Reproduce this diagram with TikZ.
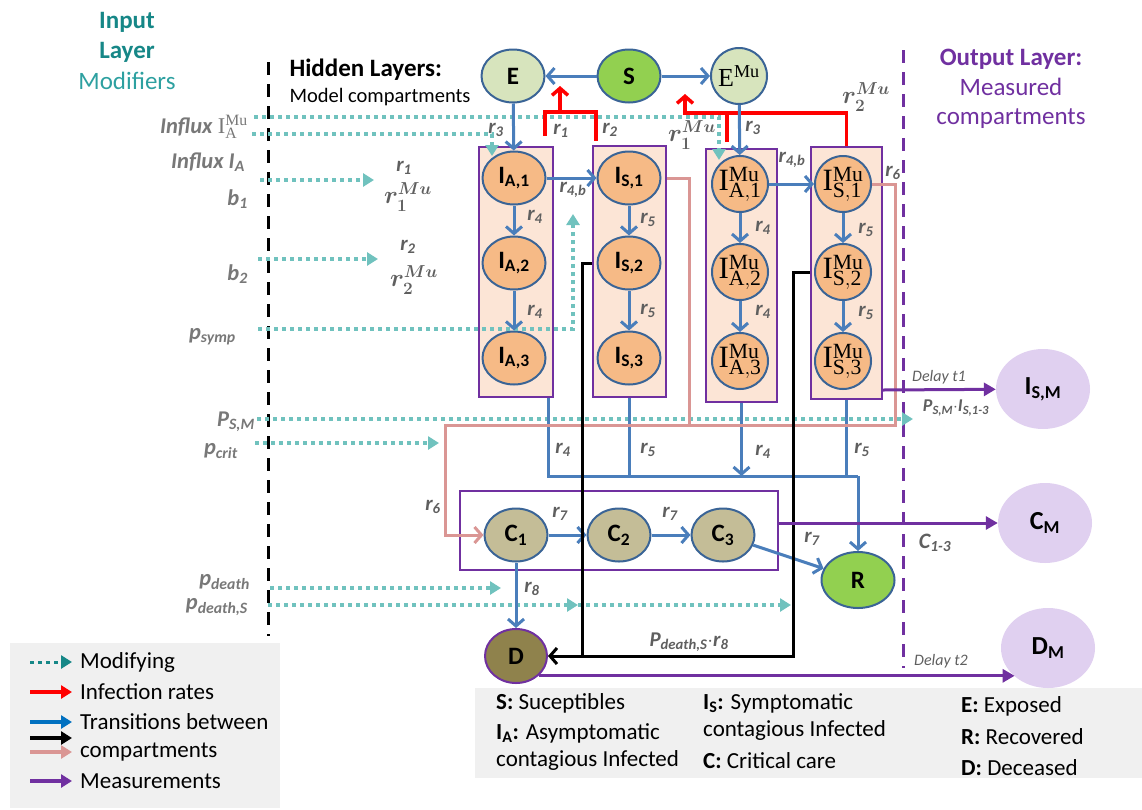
\documentclass[tikz,border=0pt]{standalone}
\usepackage{fontspec}
\setmainfont{Carlito}
\setmathrm{Liberation Serif}
\usetikzlibrary{shapes.geometric,arrows.meta}

\definecolor{tblue}{RGB}{74,126,187}
\definecolor{legblue}{RGB}{0,112,192}
\definecolor{bordblue}{RGB}{58,100,150}
\definecolor{modteal}{RGB}{112,194,190}
\definecolor{darkteal}{RGB}{22,135,135}
\definecolor{midteal}{RGB}{45,160,160}
\definecolor{mpurple}{RGB}{112,48,160}
\definecolor{boxfill}{RGB}{252,229,214}
\definecolor{orfill}{RGB}{246,186,134}
\definecolor{efill}{RGB}{215,228,189}
\definecolor{sgreen}{RGB}{146,208,80}
\definecolor{cfill}{RGB}{196,189,151}
\definecolor{dfill}{RGB}{143,130,76}
\definecolor{measfill}{RGB}{224,208,240}
\definecolor{pinkc}{RGB}{218,150,148}
\definecolor{labgray}{RGB}{95,95,95}
\definecolor{inpgray}{RGB}{120,120,120}
\definecolor{legbg}{RGB}{240,240,240}

\newcommand{\fsz}[1]{\fontsize{#1}{#1}\selectfont}
\newcommand{\muI}[2]{$\mathrm{#1}^{\mathrm{Mu}}_{\mathrm{#2}}$}

\begin{document}
\begin{tikzpicture}[x=1pt, y=-1pt, >={Straight Barb[length=7pt,width=16pt]},
    comp/.style={ellipse, draw=bordblue, line width=2pt, inner sep=0pt, minimum width=63pt, minimum height=53pt, font=\fsz{25}\bfseries},
    mucomp/.style={circle, draw=bordblue, line width=2pt, fill=orfill, inner sep=0pt, minimum size=56pt, font=\fsz{31}},
    layerbox/.style={draw=mpurple, line width=2pt, fill=boxfill, inner sep=0pt},
    measnode/.style={ellipse, fill=measfill, inner sep=0pt, minimum width=94pt, minimum height=80pt, font=\fsz{26}\bfseries},
    trans/.style={draw=tblue, line width=3pt},
    infect/.style={draw=red, line width=3.5pt},
    blk/.style={draw=black, line width=3pt},
    pinkline/.style={draw=pinkc, line width=3pt},
    meas/.style={draw=mpurple, line width=3pt, -{Triangle[length=12pt,width=13pt]}},
    modif/.style={draw=modteal, line width=4pt, dash pattern=on 4pt off 4pt, -{Triangle[length=11pt,width=13pt]}},
    lab/.style={text=labgray, inner sep=0pt, font=\fsz{21}\bfseries\itshape},
    mulab/.style={text=labgray, inner sep=0pt, font=\fsz{24}\boldmath},
    inlab/.style={text=inpgray, anchor=east, inner sep=0pt, font=\fsz{22.5}\bfseries\itshape},
    legtext/.style={anchor=west, inner sep=0pt, font=\fsz{23}}]
    \useasboundingbox (0,0) rectangle (1142,809);

    % legend panels
    \node[fill=legbg, inner sep=0pt, minimum width=270pt, minimum height=165pt, anchor=north west] (legL) at (10,643) {};
    \node[fill=legbg, inner sep=0pt, minimum width=667pt, minimum height=90pt, anchor=north west] (legR) at (475,688) {};

    % layer headings
    \node[text=darkteal, align=center, font=\fontsize{25}{30}\selectfont\bfseries] (inhead) at (127,37) {Input\\Layer};
    \node[text=midteal, font=\fsz{25}] (modhead) at (127,81) {Modifiers};
    \node[anchor=west, font=\fsz{25}\bfseries] (hidhead) at (286,70) {Hidden Layers:};
    \node[anchor=west, font=\fsz{20.5}] (hidsub) at (286,97) {Model compartments};
    \node[text=mpurple, align=center, font=\fontsize{25}{29.5}\selectfont] (outhead) at (1011,89) {\textbf{Output Layer:}\\Measured\\compartments};
    \draw[line width=3pt, dash pattern=on 13pt off 9pt] (268,62) -- (268,636);
    \draw[mpurple, line width=3pt, dash pattern=on 13pt off 9pt] (903,50) -- (903,668);

    % stacks of infected stages
    \node[layerbox, minimum width=74pt, minimum height=250pt] (boxIA) at (516,272) {};
    \node[layerbox, minimum width=73pt, minimum height=251pt] (boxIS) at (629.5,271.5) {};
    \node[layerbox, minimum width=71pt, minimum height=253pt] (boxIAM) at (741.5,275.5) {};
    \node[layerbox, minimum width=71pt, minimum height=252pt] (boxISM) at (846.5,273) {};
    \node[draw=mpurple, line width=2pt, inner sep=0pt, minimum width=318pt, minimum height=79pt] (boxC) at (619,530.5) {};

    % compartments
    \node[comp, fill=efill] (E) at (513,76) {E};
    \node[comp, fill=sgreen] (S) at (629,76) {S};
    \node[mucomp, fill=efill, font=\fsz{26}] (EMu) at (739,76) {$\mathrm{E}^{\mathrm{Mu}}$};
    \foreach \k/\y in {1/178, 2/263, 3/358}{
        \node[comp, fill=orfill] (IA\k) at (514,\y) {I\textsubscript{A,\k}};
        \node[comp, fill=orfill] (IS\k) at (629,\y) {I\textsubscript{S,\k}};
    }
    \foreach \k/\y in {1/184, 2/272, 3/361}{
        \node[mucomp] (IAM\k) at (740,\y) {\muI{I}{A,\k}};
        \node[mucomp] (ISM\k) at (843,\y) {\muI{I}{S,\k}};
    }
    \foreach \k/\x in {1/516, 2/619, 3/723}
        \node[comp, fill=cfill] (C\k) at (\x,535) {C\textsubscript{\k}};
    \node[comp, fill=sgreen, minimum width=73pt, minimum height=56pt] (R) at (858,580) {R};
    \node[comp, fill=dfill, draw=mpurple, minimum width=62pt, minimum height=54pt] (D) at (516,656) {D};
    \node[measnode] (ISmeas) at (1043,389) {I\textsubscript{S,M}};
    \node[measnode] (CM) at (1045,523) {C\textsubscript{M}};
    \node[measnode] (DM) at (1048,648) {D\textsubscript{M}};

    % modifiers
    \coordinate (inMuS) at (254,117); \coordinate (inMuE) at (719,160);
    \coordinate (inAS) at (252,134);  \coordinate (inAE) at (492,156);
    \coordinate (b1S) at (260,180);   \coordinate (b1E) at (374,180);
    \coordinate (b2S) at (258,259);   \coordinate (b2E) at (378,259);
    \coordinate (psS) at (258,329);   \coordinate (psE) at (573,214);
    \coordinate (pmS) at (257,419);   \coordinate (pmE) at (913,419);
    \coordinate (pcS) at (255,443);   \coordinate (pcE) at (439,443);
    \coordinate (pdS) at (270,588);   \coordinate (pdE) at (501,588);
    \coordinate (pxS) at (268,605);   \coordinate (pxM) at (578,605);   \coordinate (pxE) at (791,605);
    \draw[modif] (inMuS) -| (inMuE);
    \draw[modif] (inAS) -| (inAE);
    \draw[modif] (psS) -| (psE);
    \foreach \a/\b in {b1S/b1E, b2S/b2E, pmS/pmE, pcS/pcE, pdS/pdE, pxS/pxM, pxM/pxE}
        \draw[modif] (\a) -- (\b);

    % infection rates
    \coordinate (rfA) at (545,136); \coordinate (rfB) at (596,141);
    \coordinate (rfJ) at (560,112); \coordinate (rfT) at (560,86);
    \coordinate (rmJ) at (685,113); \coordinate (rmT) at (685,94); \coordinate (rmC) at (727,142);
    \draw[infect] (rfA) -- (rfA |- rfJ) -- (rfB |- rfJ) -- (rfB);
    \draw[infect,->] (rfJ) -- (rfT);
    \draw[infect,->] (boxISM.north) |- (rmJ) -- (rmT);
    \draw[infect] (rmC) -- (rmC |- rmJ);

    % transitions
    \draw[trans,->] (S) -- (E);
    \draw[trans,->] (S) -- (EMu);
    \draw[trans,->] (E) -- (IA1);
    \draw[trans,->] (EMu) -- (IAM1);
    \foreach \a/\b in {IA1/IA2, IA2/IA3, IS1/IS2, IS2/IS3, IAM1/IAM2, IAM2/IAM3, ISM1/ISM2, ISM2/ISM3,
                       IA1/IS1, IAM1/ISM1, C1/C2, C2/C3, C3/R, C1/D}
        \draw[trans,->] (\a) -- (\b);
    \coordinate (jR) at (858,476);
    \draw[trans] ([xshift=-6pt]boxIA.south east) |- (jR);
    \draw[trans] (boxIS.south) -- (boxIS.south |- jR);
    \draw[trans,->] (boxIAM.south) -- (boxIAM.south |- jR);
    \draw[trans] (boxISM.south) |- (jR);
    \draw[trans,->] (jR) -- (R);

    \coordinate (pkA) at (689,425); \coordinate (pkB) at (895,425); \coordinate (pkC) at (445,425);
    \draw[pinkline] (IS1.east -| boxIS.east) -| (pkA);
    \draw[pinkline,->] (ISM1.east) -| (pkB) -- (pkC) |- (C1);

    \coordinate (bkA) at (582,0); \coordinate (bkB) at (793,0);
    \draw[blk] (IS2.west -| boxIS.west) -| (bkA |- D);
    \draw[blk,->] (ISM2.west -| boxISM.west) -| (bkB |- D) -- (D);

    % measurements
    \draw[meas] ([yshift=10pt]boxISM.south east) -- (ISmeas);
    \draw[meas] (boxC.east |- CM) -- (CM);
    \draw[meas] (D.south east) -- (D.south east -| DM.south west);

    % rates
    \foreach \n/\x/\y/\t in {lr3a/496/130/3, lr1/561/131/1, lr2/610/130/2, lr3b/753/128/3,
            lr4ba/573/190/{4,b}, lr4bb/792/160/{4,b}, lr4a/535/217/4, lr4b/535/312/4,
            lr5a/648/220/5, lr5b/648/311/5, lr4c/763/228/4, lr4d/763/312/4,
            lr5c/866/230/5, lr5d/866/313/5, lr6a/893/173/6, lr6b/433/507/6,
            lr4e/563/450/4, lr5e/648/450/5, lr4f/763/452/4, lr5f/862/450/5,
            lr7a/560/514/7, lr7b/670/514/7, lr7c/812/539/7, lr8/532/589/8, in1/404/168/1, in2/408/247/2}
        \node[lab] (\n) at (\x,\y) {r\textsubscript{\t}};
    \node[mulab] (lr1mu) at (692,135) {$r_1^{Mu}$};
    \node[mulab] (lr2mu) at (866,97) {$r_2^{Mu}$};
    \node[mulab] (in1mu) at (408,197) {$r_1^{Mu}$};
    \node[mulab] (in2mu) at (414,280) {$r_2^{Mu}$};

    % input modifiers
    \node[inlab] (lInMu) at (248,127) {Influx \textup{$\mathrm{I}^{\mathrm{Mu}}_{\mathrm{A}}$}};
    \node[inlab] (lInA) at (245,162) {Influx I\textsubscript{A}};
    \node[inlab] (lb1) at (248,199) {b\textsubscript{1}};
    \node[inlab] (lb2) at (248,274) {b\textsubscript{2}};
    \node[inlab] (lps) at (236,337) {p\textsubscript{symp}};
    \node[inlab] (lPSM) at (255,422) {P\textsubscript{S,M}};
    \node[inlab] (lpc) at (238,451) {p\textsubscript{crit}};
    \node[inlab] (lpd) at (250,582) {p\textsubscript{death}};
    \node[inlab] (lpdS) at (248,607) {p\textsubscript{death,S}};

    % measurement labels
    \node[lab, font=\fsz{16}\itshape] (ldel1) at (939,377) {Delay t1};
    \node[lab, font=\fsz{18}\bfseries\itshape] (lpsm) at (956,408) {P\textsubscript{S,M}$\cdot$I\textsubscript{S,1-3}};
    \node[lab, font=\fsz{22}\bfseries\itshape] (lc13) at (935,543) {C\textsubscript{1-3}};
    \node[lab, font=\fsz{16}\itshape] (ldel2) at (941,661) {Delay t2};
    \node[lab] (lpdr) at (689,642) {P\textsubscript{death,S}$\cdot$r\textsubscript{8}};

    % legend
    \node[legtext] (lgMod) at (80,662) {Modifying};
    \node[legtext] (lgInf) at (80,692) {Infection rates};
    \node[legtext] (lgTr) at (80,722) {Transitions between};
    \node[legtext] (lgCo) at (80,752) {compartments};
    \node[legtext] (lgMe) at (80,781) {Measurements};
    \draw[modif, draw=darkteal, line width=3pt] ([xshift=-50pt]lgMod.west) -- ([xshift=-8pt]lgMod.west);
    \foreach \c/\n/\dy in {red/lgInf/0, legblue/lgTr/0, black/lgTr/16, pinkc/lgCo/0, mpurple/lgMe/0}
        \draw[\c, line width=3.5pt, -{Triangle[length=11pt,width=13pt]}] ([xshift=-50pt,yshift=-\dy pt]\n.west) -- ([xshift=-8pt,yshift=-\dy pt]\n.west);

    \node[legtext] (kS) at (496,703) {\textbf{S:} Suceptibles};
    \node[legtext] (kIA) at (496,733) {\textbf{I\textsubscript{A}:} Asymptomatic};
    \node[legtext] (kIA2) at (496,760) {contagious Infected};
    \node[legtext] (kIS) at (703,703) {\textbf{I\textsubscript{S}:} Symptomatic};
    \node[legtext] (kIS2) at (703,730) {contagious Infected};
    \node[legtext] (kC) at (703,761) {\textbf{C:} Critical care};
    \node[legtext] (kE) at (961,706) {\textbf{E:} Exposed};
    \node[legtext] (kR) at (961,737) {\textbf{R:} Recovered};
    \node[legtext] (kD) at (961,768) {\textbf{D:} Deceased};
\end{tikzpicture}
\end{document}
